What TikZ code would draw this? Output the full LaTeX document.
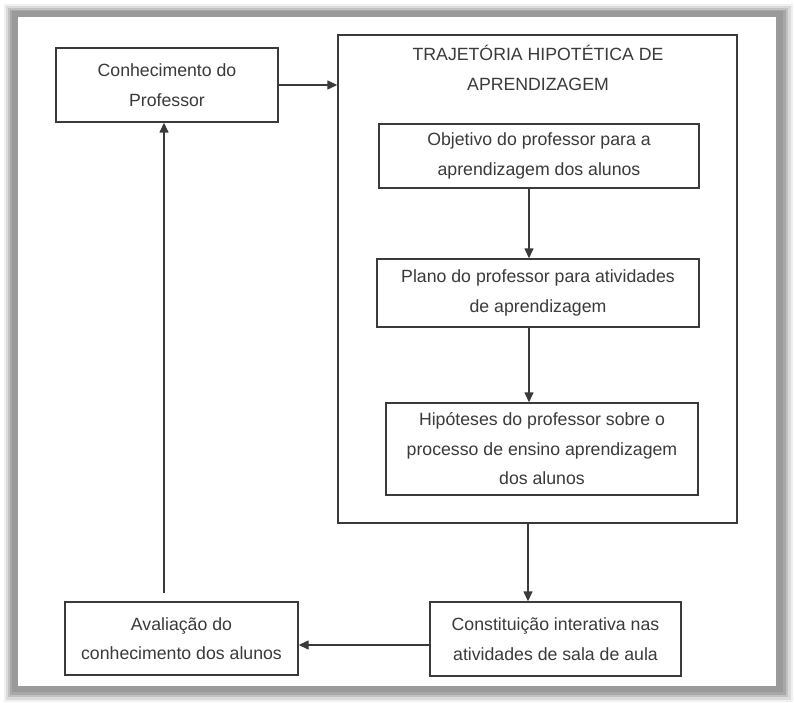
\documentclass[tikz,border=0pt]{standalone}
\usepackage{fontspec}
\setmainfont{Liberation Sans}
\usetikzlibrary{arrows.meta}
\definecolor{ink}{HTML}{3A3A3A}
\definecolor{band}{HTML}{9A9A9A}
\tikzset{
  box/.style={draw=ink, line width=1.4pt, fill=white, text=ink, align=center,
    inner sep=0pt, font=\fontsize{17.7}{29.5}\selectfont},
  lbl/.style={text=ink, align=center, inner sep=0pt, font=\fontsize{17.7}{29.5}\selectfont},
  arr/.style={draw=ink, line width=1.4pt, -{Triangle[length=10pt,width=9pt]}}
}
\begin{document}
\begin{tikzpicture}[x=1pt,y=-1pt]
\useasboundingbox (0,0) rectangle (794,703);
% frame shadow
\fill[white] (0,0) rectangle (794,703);
\fill[black!6] (4,4) rectangle (793,702);
\fill[black!14] (6,6) rectangle (791,700);
\fill[black!24] (8,8) rectangle (788,697);
\fill[black!34] (10,10) rectangle (786,695);
\fill[band] (12,11) rectangle (783,692);
\fill[white] (18,17) rectangle (776,686);
% nodes
\node[box, minimum width=222pt, minimum height=74pt] (conh) at (167,85) {Conhecimento do\\Professor};
\node[box, minimum width=399pt, minimum height=488pt] (big) at (537.5,279) {};
\node[lbl] (title) at (538,68) {TRAJETÓRIA HIPOTÉTICA DE\\APRENDIZAGEM};
\node[box, minimum width=320pt, minimum height=64pt] (obj) at (539,156) {Objetivo do professor para a\\aprendizagem dos alunos};
\node[box, minimum width=322pt, minimum height=68pt] (plano) at (538,293) {Plano do professor para atividades\\de aprendizagem};
\node[box, minimum width=312pt, minimum height=92pt] (hip) at (542,449) {Hipóteses do professor sobre o\\processo de ensino aprendizagem\\dos alunos};
\node[box, minimum width=251pt, minimum height=74pt] (const) at (555.5,639) {Constituição interativa nas\\atividades de sala de aula};
\node[box, minimum width=233pt, minimum height=73pt] (aval) at (181.5,638.5) {Avaliação do\\conhecimento dos alunos};
% guide coordinates
\coordinate (ax) at (529,0);
\coordinate (bx) at (528,0);
\coordinate (cy) at (0,645);
\coordinate (ux) at (164,0);
% connectors
\draw[arr] (conh.east) -- (conh.east -| big.west);
\draw[arr] (obj.south -| ax) -- (plano.north -| ax);
\draw[arr] (plano.south -| ax) -- (hip.north -| ax);
\draw[arr] (big.south -| bx) -- (const.north -| bx);
\draw[arr] (const.west |- cy) -- (aval.east |- cy);
\draw[arr, shorten <=8pt] (aval.north -| ux) -- (conh.south -| ux);
\end{tikzpicture}
\end{document}
